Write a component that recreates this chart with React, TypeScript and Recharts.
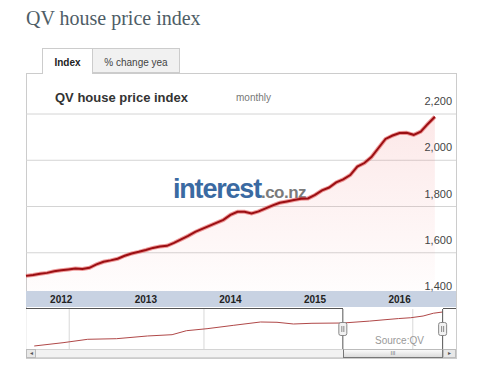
import React from 'react';
import {
  ComposedChart,
  LineChart,
  Area,
  Line,
  XAxis,
  YAxis,
  CartesianGrid,
  ReferenceLine,
  ReferenceArea,
  ReferenceDot,
} from 'recharts';

// QV house price index, monthly readings Aug 2011 - Jun 2016
const firstYear = 2011;
const firstMonth = 8;
const indexValues = [
  1500, 1504, 1509, 1513, 1520, 1524, 1528, 1532, 1530, 1535,
  1550, 1561, 1567, 1574, 1587, 1597, 1604, 1612, 1621, 1627,
  1630, 1643, 1658, 1673, 1690, 1703, 1716, 1729, 1742, 1764,
  1777, 1777, 1770, 1779, 1792, 1805, 1816, 1822, 1828, 1833,
  1835, 1850, 1870, 1882, 1904, 1917, 1936, 1973, 1988, 2014,
  2053, 2092, 2107, 2118, 2119, 2110, 2124, 2157, 2188,
];
const months = indexValues.map((_, i) => {
  const m = firstMonth - 1 + i;
  return `${firstYear + Math.floor(m / 12)}-${String((m % 12) + 1).padStart(2, '0')}`;
});
const yearLabels = ['2012', '2013', '2014', '2015', '2016'];
const yTicks = [1400, 1600, 1800, 2000, 2200];
const gridValues = [1600, 1800, 2000, 2200];
const xAxisEnd = 61; // axis runs a few months past the last reading

// navigator (full history thumbnail)
const navYears = [1996.6, 1998.0, 1999.2, 2000.6, 2002.1, 2003.3, 2004.0, 2005.0, 2006.3, 2007.6, 2008.4, 2009.2, 2010.1, 2011.6, 2012.9, 2013.6, 2014.3, 2014.9, 2015.5, 2016.0, 2016.45];
const navValues = [63, 269, 482, 519, 688, 769, 1019, 1144, 1357, 1563, 1544, 1438, 1482, 1500, 1620, 1700, 1777, 1830, 1936, 2110, 2188];
const navGridYears = [1998.3, 2004.85, 2015.0];
const navDomain = [1996.2, 2017.1];
const navRange = [-125, 2375];
const selStart = 2011.6;
const selEnd = 2016.45;

const data = months.map((m, i) => ({ t: i, month: m, value: indexValues[i] }));
const xTicks = yearLabels.map((y) => months.indexOf(`${y}-01`));
const navData = navYears.map((y, i) => ({ year: y, value: navValues[i] }));

const FONT = "'Liberation Sans', Arial, sans-serif";

const YTick = (props: any) => {
  const { x, y, payload } = props;
  return (
    <text x={x - 4} y={y - 9} textAnchor="end" fontSize={11} fill="#444" fontFamily={FONT}>
      {Number(payload.value).toLocaleString('en-US')}
    </text>
  );
};

const XTick = (props: any) => {
  const { x, y, payload } = props;
  return (
    <text x={x} y={y + 4} textAnchor="middle" fontSize={10} fontWeight="bold" fill="#222" fontFamily={FONT}>
      {months[payload.value].slice(0, 4)}
    </text>
  );
};

const Handle = (props: any) => {
  const { cx, cy } = props;
  return (
    <g>
      <rect x={cx - 4} y={cy - 6.5} width={8} height={13} rx={2} fill="#f2f2f2" stroke="#888" />
      <line x1={cx - 1} y1={cy - 3} x2={cx - 1} y2={cy + 3} stroke="#888" />
      <line x1={cx + 1} y1={cy - 3} x2={cx + 1} y2={cy + 3} stroke="#888" />
    </g>
  );
};

const abs = (s: React.CSSProperties): React.CSSProperties => ({ position: 'absolute', ...s });

export default function App() {
  return (
    <div style={abs({ left: 0, top: 0, width: 479, height: 376, background: '#fff', fontFamily: FONT, overflow: 'hidden' })}>
      <div style={abs({ left: 26, top: 8, fontFamily: "'Liberation Serif', Georgia, serif", fontSize: 20, lineHeight: '20px', color: '#4e5d66' })}>
        QV house price index
      </div>

      {/* panel */}
      <div style={abs({ left: 26, top: 73, width: 431, height: 286, border: '1px solid #ccc', boxSizing: 'border-box', background: '#fff' })} />
      <div style={abs({ left: 92, top: 48, width: 88, height: 25, border: '1px solid #ccc', boxSizing: 'border-box', background: '#f1f1f1', fontSize: 10, color: '#444', textAlign: 'center', lineHeight: '28px' })}>
        % change yea
      </div>
      <div style={abs({ left: 42, top: 48, width: 51, height: 26, border: '1px solid #ccc', borderBottom: 'none', boxSizing: 'border-box', background: '#fff', fontSize: 10, fontWeight: 'bold', color: '#222', textAlign: 'center', lineHeight: '28px' })}>
        Index
      </div>

      <div style={abs({ left: 55, top: 91, fontSize: 13, lineHeight: '13px', fontWeight: 'bold', color: '#333' })}>
        QV house price index
      </div>
      <div style={abs({ left: 236, top: 93, fontSize: 10, lineHeight: '10px', color: '#777' })}>monthly</div>

      <div style={abs({ left: 173, top: 176, lineHeight: '27px', whiteSpace: 'nowrap' })}>
        <span style={{ fontSize: 27, fontWeight: 'bold', color: '#3a6aa2', letterSpacing: -1.2 }}>interest</span>
        <span style={{ fontSize: 17, fontWeight: 'bold', color: '#7b7b7b', letterSpacing: -0.5 }}>.co.nz</span>
      </div>

      {/* x axis band */}
      <div style={abs({ left: 26, top: 291, width: 430, height: 16, background: '#c8d2e2' })} />

      <ComposedChart
        width={479}
        height={376}
        data={data}
        margin={{ top: 114, right: 22, bottom: 61, left: 26 }}
        style={abs({ left: 0, top: 0 })}
      >
        <defs>
          <linearGradient id="qvFill" x1="0" y1="0" x2="0" y2="1">
            <stop offset="0%" stopColor="#f08080" stopOpacity={0.3} />
            <stop offset="100%" stopColor="#f08080" stopOpacity={0.03} />
          </linearGradient>
        </defs>
        <CartesianGrid vertical={false} horizontalValues={gridValues} stroke="#d4d4d4" />
        <XAxis
          type="number"
          dataKey="t"
          domain={[0, xAxisEnd]}
          ticks={xTicks}
          interval={0}
          height={16}
          tickSize={0}
          tickMargin={0}
          axisLine={false}
          tickLine={false}
          tick={<XTick />}
        />
        <YAxis
          orientation="right"
          width={1}
          domain={[1400, 2200]}
          ticks={yTicks}
          interval={0}
          allowDataOverflow
          tickSize={0}
          tickMargin={0}
          axisLine={false}
          tickLine={false}
          tick={<YTick />}
        />
        <Area
          type="linear"
          dataKey="value"
          baseValue={1435}
          fill="url(#qvFill)"
          stroke="#e04848"
          strokeWidth={4}
          strokeOpacity={0.55}
          isAnimationActive={false}
          dot={false}
          activeDot={false}
        />
        <Line type="linear" dataKey="value" stroke="#9b0e12" strokeWidth={2} dot={false} activeDot={false} isAnimationActive={false} />
      </ComposedChart>

      <LineChart
        width={479}
        height={376}
        data={navData}
        margin={{ top: 309, right: 23, bottom: 27, left: 26 }}
        style={abs({ left: 0, top: 0 })}
      >
        <XAxis type="number" dataKey="year" domain={navDomain} hide />
        <YAxis domain={navRange} hide />
        {navGridYears.map((y) => (
          <ReferenceLine key={y} x={y} stroke="#d8d8d8" />
        ))}
        <Line type="linear" dataKey="value" stroke="#b04848" strokeWidth={1} dot={false} activeDot={false} isAnimationActive={false} />
        <ReferenceArea x1={navDomain[0]} x2={selStart} fill="#fff" fillOpacity={0.75} stroke="none" />
        <ReferenceArea x1={selEnd} x2={navDomain[1]} fill="#fff" fillOpacity={0.75} stroke="none" />
        <ReferenceLine x={selStart} stroke="#555" />
        <ReferenceLine x={selEnd} stroke="#555" />
        <ReferenceDot x={selStart} y={1125} r={5} shape={<Handle />} />
        <ReferenceDot x={selEnd} y={1125} r={5} shape={<Handle />} />
      </LineChart>

      {/* navigator outline top */}
      <div style={abs({ left: 26, top: 308, width: 317, height: 1, background: '#555' })} />
      <div style={abs({ left: 443, top: 308, width: 13, height: 1, background: '#555' })} />

      <div style={abs({ left: 375, top: 335, fontSize: 10, lineHeight: '12px', color: '#999' })}>Source:QV</div>

      {/* scrollbar */}
      <div style={abs({ left: 26, top: 349, width: 430, height: 9, background: '#f2f2f2', border: '1px solid #d4d4d4', boxSizing: 'border-box' })} />
      <div style={abs({ left: 26, top: 349, width: 10, height: 9, background: '#e8e8e8', border: '1px solid #bbb', boxSizing: 'border-box', fontSize: 6, lineHeight: '7px', textAlign: 'center', color: '#555' })}>◂</div>
      <div style={abs({ left: 343, top: 349, width: 100, height: 9, background: 'linear-gradient(#fafafa, #dcdcdc)', border: '1px solid #777', borderTop: '1px solid #bbb', boxSizing: 'border-box', fontSize: 6, lineHeight: '7px', textAlign: 'center', color: '#777' })}>III</div>
      <div style={abs({ left: 443, top: 349, width: 13, height: 9, background: '#e8e8e8', border: '1px solid #bbb', boxSizing: 'border-box', fontSize: 6, lineHeight: '7px', textAlign: 'center', color: '#555' })}>▸</div>
    </div>
  );
}
